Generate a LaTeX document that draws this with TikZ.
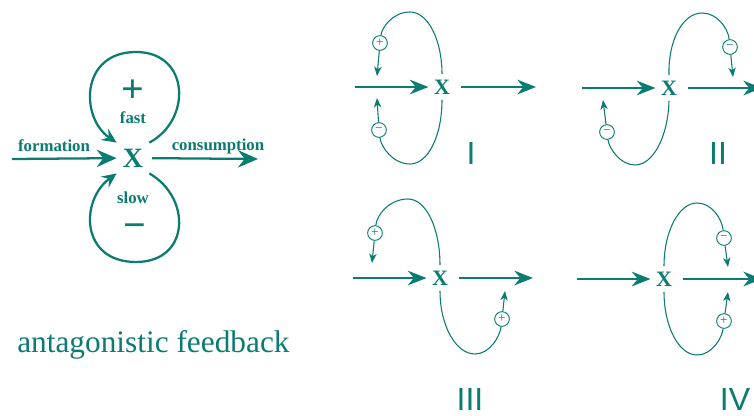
\documentclass[tikz,border=0pt]{standalone}
\usepackage{fontspec}
\setmainfont{Liberation Serif}
\setsansfont{Liberation Sans}
\usetikzlibrary{arrows.meta}
\definecolor{fbteal}{HTML}{0B7C71}

\begin{document}
\begin{tikzpicture}[x=0.75pt, y=-0.75pt,
  every node/.style={text=fbteal},
  bigarrow/.style={draw=fbteal, line width=1.7pt, -{Stealth[length=15pt,width=13pt,inset=5pt]}},
  bigloop/.style={draw=fbteal, line width=1.7pt},
  bigloopend/.style={bigloop, -{Stealth[length=11pt,width=10pt,inset=4pt]}},
  flow/.style={draw=fbteal, line width=1.1pt, -{Stealth[length=14pt,width=11pt,inset=4.5pt]}},
  loopline/.style={draw=fbteal, line width=0.8pt},
  tick/.style={draw=fbteal, line width=0.8pt, -{Stealth[length=7pt,width=5.5pt,inset=2pt]}},
  sign/.style={circle, draw=fbteal, line width=0.7pt, minimum size=11pt, inner sep=0pt,
    font=\fontsize{10}{10}\selectfont},
  xbig/.style={font=\fontsize{21}{21}\selectfont\bfseries, inner sep=4.5pt},
  xsmall/.style={font=\fontsize{16.5}{16}\selectfont\bfseries, inner sep=4pt},
  numeral/.style={font=\sffamily\fontsize{24}{24}\selectfont, inner sep=0pt},
  lbl/.style={font=\bfseries\fontsize{12.6}{13}\selectfont, inner sep=1pt},
  bigsign/.style={font=\bfseries\fontsize{30}{30}\selectfont, inner sep=0pt}
]
\useasboundingbox (0,0) rectangle (754,415);
\fill[white] (0,0) rectangle (754,415);

% ---------- antagonistic feedback: fast positive loop, slow negative loop ----------
\node[xbig] (xL) at (133,158) {X};
\coordinate (formStart) at (12,159);
\coordinate (consEnd) at (258,159);
\draw[bigarrow] (formStart) -- (xL);
\draw[bigarrow, shorten <=2pt] (xL) -- (consEnd);
\node[lbl] (formation) at (54,146) {formation};
\node[lbl] (consumption) at (218,146) {consumption};
\node[lbl] (fast) at (133,118) {fast};
\node[lbl] (slow) at (133,198) {slow};
\node[bigsign] (plusL) at (133,91) {+};
\node[bigsign] (minusL) at (135,231) {−};
\draw[bigloopend] (xL.north east) .. controls (192,120) and (190,52) .. (136,52)
  .. controls (80,52) and (80,118) .. (xL.north west);
\draw[bigloopend] (xL.south east) .. controls (192,198) and (190,262) .. (136,262)
  .. controls (80,262) and (80,200) .. (xL.south west);
\node[font=\fontsize{23.5}{24}\selectfont, anchor=base west, inner sep=0pt] (caption) at (17,352)
  {antagonistic feedback};

% ---------- panel I ----------
\node[xsmall] (xI) at (442,87) {X};
\coordinate (inI) at (355,87);
\coordinate (outI) at (536,87);
\draw[flow] (inI) -- (xI);
\draw[flow, shorten <=4pt] (xI) -- (outI);
\node[sign] (pI) at (380,43) {+};
\node[sign] (mI) at (379,130) {−};
\coordinate (tIa) at (377,76);
\coordinate (tIb) at (377,98);
\draw[loopline] (xI.north) .. controls (442,40) and (428,12) .. (410,12)
  .. controls (393,12) and (382,27) .. (pI);
\draw[loopline] (xI.south) .. controls (442,136) and (428,164) .. (410,164)
  .. controls (393,164) and (381,147) .. (mI);
\draw[tick] (pI) -- (tIa);
\draw[tick] (mI) -- (tIb);
\node[numeral] (numI) at (471,153) {I};

% ---------- panel II ----------
\node[xsmall] (xII) at (669,88) {X};
\coordinate (inII) at (582,88);
\coordinate (outII) at (762,88);
\draw[flow] (inII) -- (xII);
\draw[flow, shorten <=4pt] (xII) -- (outII);
\node[sign] (mIIa) at (730,47) {−};
\node[sign] (mIIb) at (607,132) {−};
\coordinate (tIIa) at (733,77);
\coordinate (tIIb) at (603,100);
\draw[loopline] (xII.north) .. controls (668,40) and (683,13) .. (702,13)
  .. controls (717,13) and (728,28) .. (mIIa);
\draw[loopline] (xII.south) .. controls (668,137) and (653,165) .. (635,165)
  .. controls (620,165) and (609,148) .. (mIIb);
\draw[tick] (mIIa) -- (tIIa);
\draw[tick] (mIIb) -- (tIIb);
\node[numeral] (numII) at (718,153) {II};

% ---------- panel III ----------
\node[xsmall] (xIII) at (440,278) {X};
\coordinate (inIII) at (353,278);
\coordinate (outIII) at (533,278);
\draw[flow] (inIII) -- (xIII);
\draw[flow, shorten <=4pt] (xIII) -- (outIII);
\node[sign] (pIIIa) at (375,233) {+};
\node[sign] (pIIIb) at (502,319) {+};
\coordinate (tIIIa) at (372,263);
\coordinate (tIIIb) at (505,291);
\draw[loopline] (xIII.north) .. controls (440,228) and (426,199) .. (408,199)
  .. controls (390,199) and (377,214) .. (pIIIa);
\draw[loopline] (xIII.south) .. controls (440,326) and (456,354) .. (475,354)
  .. controls (490,354) and (500,336) .. (pIIIb);
\draw[tick] (pIIIa) -- (tIIIa);
\draw[tick] (pIIIb) -- (tIIIb);
\node[numeral] (numIII) at (470,399) {III};

% ---------- panel IV ----------
\node[xsmall] (xIV) at (664,279) {X};
\coordinate (inIV) at (577,279);
\coordinate (outIV) at (762,279);
\draw[flow] (inIV) -- (xIV);
\draw[flow, shorten <=4pt] (xIV) -- (outIV);
\node[sign] (mIV) at (724,238) {−};
\node[sign] (pIV) at (724,321) {+};
\coordinate (tIVa) at (728,267);
\coordinate (tIVb) at (728,292);
\draw[loopline] (xIV.north) .. controls (664,231) and (679,203) .. (697,203)
  .. controls (712,203) and (722,219) .. (mIV);
\draw[loopline] (xIV.south) .. controls (664,327) and (679,355) .. (697,355)
  .. controls (712,355) and (722,338) .. (pIV);
\draw[tick] (mIV) -- (tIVa);
\draw[tick] (pIV) -- (tIVb);
\node[numeral] (numIV) at (735,399) {IV};
\end{tikzpicture}
\end{document}
